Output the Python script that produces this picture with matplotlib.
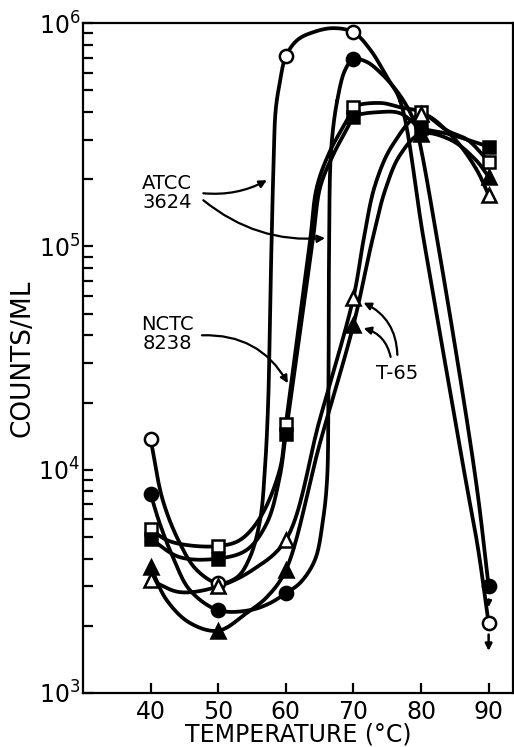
import matplotlib
matplotlib.use("Agg")
import matplotlib.pyplot as plt
import numpy as np
from matplotlib.ticker import LogLocator, NullFormatter, NullLocator, FixedLocator

plt.rcParams['font.family'] = ['DejaVu Sans']

# marker values (counts/ml at each temperature)
temps = [40, 50, 60, 70, 80, 90]
atcc_open = [1.37e4, 3.1e3, 7.1e5, 9.1e5, np.nan, 2.05e3]
atcc_filled = [7.8e3, 2.35e3, 2.8e3, 6.9e5, np.nan, 3.0e3]
nctc_open = [5.4e3, 4.55e3, 1.6e4, 4.2e5, 4.0e5, 2.4e5]
nctc_filled = [4.9e3, 4.0e3, 1.45e4, 3.8e5, 3.4e5, 2.8e5]
t65_open = [3.2e3, 3.0e3, 4.85e3, 5.9e4, 3.9e5, 1.7e5]
t65_filled = [3.65e3, 1.9e3, 3.55e3, 4.45e4, 3.2e5, 2.05e5]

# hand drawn curves
atcc_open_T = [40, 41.8, 44.3, 46.8, 50, 52.8, 54.7, 56.2, 56.9, 57.4, 57.7, 58.2, 58.5, 59.1, 60,
               61.7, 64.0, 67.0, 70, 72.5, 75.0, 76.9, 80.4, 86.6, 88.4, 90]
atcc_open_N = [1.37e4, 7.3e3, 4.7e3, 3.56e3, 3.1e3, 3.3e3, 4.06e3, 5.96e3, 1.0e4, 2.05e4, 5.75e4, 2.44e5,
               4.08e5, 5.4e5, 7.1e5, 8.4e5, 9.1e5, 9.5e5, 9.1e5, 7.6e5, 5.7e5, 4.5e5, 1.07e5, 9.0e3,
               4.5e3, 2.05e3]
atcc_filled_T = [40, 41.3, 43.3, 45.8, 50, 54.7, 57.7, 60, 62.1, 64.3, 65.5, 66.1, 66.3, 66.4, 66.7,
                 67.6, 68.8, 70, 72.0, 74.0, 75.9, 77.4, 78.7, 79.5, 82.4, 88.1, 90]
atcc_filled_N = [7.8e3, 5.8e3, 4.06e3, 2.89e3, 2.35e3, 2.35e3, 2.53e3, 2.8e3, 3.11e3, 3.94e3, 5.96e3,
                 9.0e3, 2.05e4, 9.6e4, 2.7e5, 4.5e5, 6.2e5, 6.9e5, 6.7e5, 6.0e5, 5.2e5, 4.5e5, 3.8e5,
                 3.2e5, 1.07e5, 9.0e3, 3.0e3]
nctc_open_T = [40, 42.4, 45.3, 50, 53.2, 56.2, 59.1, 60, 63.6, 64.6, 66.6, 69.1, 70, 74.0, 76.9, 80,
               83.9, 86.9, 90]
nctc_open_N = [5.4e3, 4.84e3, 4.6e3, 4.55e3, 4.84e3, 6.1e3, 1.0e4, 1.6e4, 1.07e5, 1.85e5, 2.7e5,
               3.7e5, 4.2e5, 4.39e5, 4.2e5, 4.0e5, 3.3e5, 3.0e5, 2.4e5]
nctc_filled_T = [40, 44.3, 50, 54.2, 57.2, 59.1, 60, 64.0, 65.1, 67.0, 69.2, 70, 74.0, 76.9, 80,
                 83.9, 90]
nctc_filled_N = [4.9e3, 4.06e3, 4.0e3, 4.37e3, 5.77e3, 9.3e3, 1.45e4, 1.07e5, 1.85e5, 2.57e5,
                 3.43e5, 3.8e5, 4.0e5, 3.95e5, 3.4e5, 3.2e5, 2.8e5]
t65_open_T = [40, 44.3, 50, 55.1, 60, 65.0, 70, 71.5, 73.2, 75.8, 80, 84.4, 88.1, 90]
t65_open_N = [3.2e3, 2.83e3, 3.0e3, 3.56e3, 4.85e3, 1.67e4, 5.9e4, 1.07e5, 1.88e5, 2.85e5, 3.9e5,
              3.16e5, 2.24e5, 1.7e5]
t65_filled_T = [40, 42.4, 45.8, 50, 54.2, 57.2, 60, 65.0, 70, 72.8, 74.7, 76.9, 80, 84.4, 88.1, 90]
t65_filled_N = [3.65e3, 2.6e3, 2.06e3, 1.9e3, 2.28e3, 2.69e3, 3.55e3, 1.3e4, 4.45e4, 1.07e5, 1.79e5,
                2.57e5, 3.2e5, 3.0e5, 2.44e5, 2.05e5]

yticks = [1e3, 1e4, 1e5, 1e6]
ytick_labels = [r'$\mathregular{10^3}$', r'$\mathregular{10^4}$', r'$\mathregular{10^5}$', r'$\mathregular{10^6}$']


def smooth(xs, ys, n=20):
    # centripetal catmull-rom, worked out in (temp, log count) on-screen units
    p = np.column_stack([np.asarray(xs, float) * 6.74, np.log10(ys) * 223.3])
    p = np.vstack([2 * p[0] - p[1], p, 2 * p[-1] - p[-2]])
    out = []
    for i in range(1, len(p) - 2):
        p0, p1, p2, p3 = p[i - 1], p[i], p[i + 1], p[i + 2]
        t0 = 0.0
        t1 = t0 + np.linalg.norm(p1 - p0) ** 0.5 + 1e-9
        t2 = t1 + np.linalg.norm(p2 - p1) ** 0.5 + 1e-9
        t3 = t2 + np.linalg.norm(p3 - p2) ** 0.5 + 1e-9
        t = np.linspace(t1, t2, n)[:, None]
        a1 = (t1 - t) / (t1 - t0) * p0 + (t - t0) / (t1 - t0) * p1
        a2 = (t2 - t) / (t2 - t1) * p1 + (t - t1) / (t2 - t1) * p2
        a3 = (t3 - t) / (t3 - t2) * p2 + (t - t2) / (t3 - t2) * p3
        b1 = (t2 - t) / (t2 - t0) * a1 + (t - t0) / (t2 - t0) * a2
        b2 = (t3 - t) / (t3 - t1) * a2 + (t - t1) / (t3 - t1) * a3
        out.append((t2 - t) / (t2 - t1) * b1 + (t - t1) / (t2 - t1) * b2)
    c = np.vstack(out)
    return c[:, 0] / 6.74, 10 ** (c[:, 1] / 223.3)


fig = plt.figure(figsize=(5.14, 7.47), dpi=100)
ax = fig.add_axes([0.1615, 0.0723, 0.8365, 0.8967])

curves = [(atcc_open_T, atcc_open_N), (atcc_filled_T, atcc_filled_N),
          (nctc_open_T, nctc_open_N), (nctc_filled_T, nctc_filled_N),
          (t65_open_T, t65_open_N), (t65_filled_T, t65_filled_N)]
for cx, cy in curves:
    sx, sy = smooth(cx, cy)
    ax.plot(sx, sy, color='black', lw=2.7, solid_capstyle='round', zorder=2)

series = [(atcc_open, 'o', 'white', 9.5), (atcc_filled, 'o', 'black', 9.5),
          (nctc_open, 's', 'white', 8), (nctc_filled, 's', 'black', 8),
          (t65_open, '^', 'white', 10), (t65_filled, '^', 'black', 10)]
for vals, mk, fc, ms in series:
    ax.plot(temps, vals, linestyle='none', marker=mk, markersize=ms, markerfacecolor=fc,
            markeredgecolor='black', markeredgewidth=1.8, zorder=3)

# "less than" arrows under the 90 degree circles
ax.annotate('', xy=(90, 1.5e3), xytext=(90, 1.88e3),
            arrowprops=dict(arrowstyle='-|>', color='black', lw=1.8, mutation_scale=10), zorder=4)
ax.annotate('', xy=(90, 2.35e3), xytext=(90, 2.7e3),
            arrowprops=dict(arrowstyle='-|>', color='black', lw=1.8, mutation_scale=8), zorder=1)

ax.set_yscale('log')
ax.set_xlim(30, 93.6)
ax.set_ylim(1e3, 1e6)
ax.set_xticks(temps)
ax.xaxis.set_minor_locator(NullLocator())
ax.yaxis.set_major_locator(FixedLocator(yticks))
ax.set_yticklabels(ytick_labels)
ax.yaxis.set_minor_locator(LogLocator(base=10, subs=np.arange(2, 10)))
ax.yaxis.set_minor_formatter(NullFormatter())
ax.tick_params(which='both', direction='in', length=7, width=1.6, top=False, right=False)
ax.tick_params(axis='x', labelsize=17, pad=5)
ax.tick_params(axis='y', labelsize=17, pad=2)
for s in ax.spines.values():
    s.set_linewidth(1.6)

ax.set_xlabel('TEMPERATURE (°C)', fontsize=17, labelpad=-1)
ax.set_ylabel('COUNTS/ML', fontsize=19, labelpad=2)

arrow_kw = dict(arrowstyle='-|>', color='black', lw=1.6, mutation_scale=11, shrinkA=0, shrinkB=0)
ax.text(42.4, 1.74e5, 'ATCC\n3624', fontsize=14, ha='center', va='center', linespacing=1.0)
ax.annotate('', xy=(57.2, 1.98e5), xytext=(47.8, 1.73e5),
            arrowprops=dict(connectionstyle='arc3,rad=0.15', **arrow_kw))
ax.annotate('', xy=(65.8, 1.09e5), xytext=(47.8, 1.61e5),
            arrowprops=dict(connectionstyle='arc3,rad=0.2', **arrow_kw))
ax.text(42.5, 4.05e4, 'NCTC\n8238', fontsize=14, ha='center', va='center', linespacing=1.0)
ax.annotate('', xy=(60.3, 2.44e4), xytext=(47.6, 4.0e4),
            arrowprops=dict(connectionstyle='arc3,rad=-0.3', **arrow_kw))
ax.text(76.4, 2.7e4, 'T-65', fontsize=14, ha='center', va='center')
ax.annotate('', xy=(71.5, 5.6e4), xytext=(76.5, 3.27e4),
            arrowprops=dict(connectionstyle='arc3,rad=0.3', **arrow_kw))
ax.annotate('', xy=(71.5, 4.3e4), xytext=(75.5, 3.2e4),
            arrowprops=dict(connectionstyle='arc3,rad=0.3', **arrow_kw))

fig.savefig('out.png', dpi=100)
